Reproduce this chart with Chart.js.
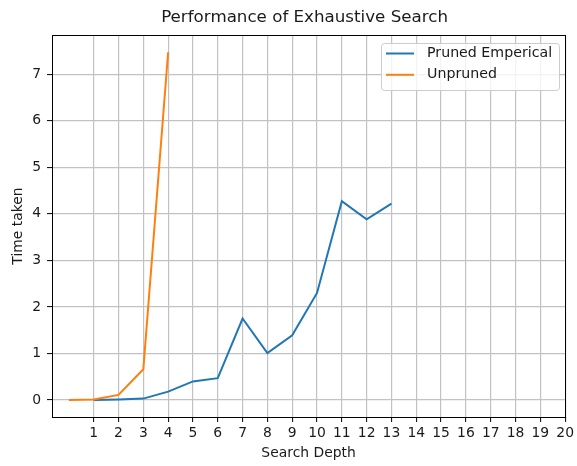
<!DOCTYPE html>
<html><head><meta charset="utf-8">
<script src="https://cdn.jsdelivr.net/npm/chart.js@4"></script>
<style>body{margin:0;background:#fff}canvas{display:block}</style>
</head><body>
<canvas id="c" width="577" height="466"></canvas>
<script>
const titleText = 'Performance of Exhaustive Search';
const xTitle = 'Search Depth';
const yTitle = 'Time taken';
const seriesNames = ['Pruned Emperical', 'Unpruned'];
const prunedDepth = [1, 2, 3, 4, 5, 6, 7, 8, 9, 10, 11, 12, 13];
const prunedTime = [0.0, 0.01, 0.03, 0.18, 0.40, 0.47, 1.75, 1.01, 1.39, 2.30, 4.27, 3.88, 4.22];
const unprunedDepth = [0, 1, 2, 3, 4];
const unprunedTime = [0.0, 0.01, 0.11, 0.66, 7.47];
const xTicks = [1,2,3,4,5,6,7,8,9,10,11,12,13,14,15,16,17,18,19,20];
const yTicks = [0,1,2,3,4,5,6,7];

const FONT = 'DejaVu Sans';
const TXT = '#1a1a1a';
const colors = ['#1f77b4', '#ff7f0e'];

const toPts = (xs, ys) => xs.map((x, i) => ({x, y: ys[i]}));

const frame = {
  id: 'frame',
  afterDraw(chart) {
    const {ctx, chartArea: a} = chart;
    ctx.save();
    ctx.strokeStyle = '#000';
    ctx.lineWidth = 1;
    ctx.strokeRect(Math.round(a.left) + 0.5, Math.round(a.top) + 0.5, Math.round(a.right - a.left), Math.round(a.bottom - a.top));
    ctx.fillStyle = TXT;
    ctx.font = `16.7px "${FONT}"`;
    ctx.textAlign = 'center';
    ctx.textBaseline = 'middle';
    ctx.fillText(titleText, (a.left + a.right) / 2 - 4, 18);
    const bx = 381, by = 43, bw = 178, bh = 47, r = 3;
    ctx.fillStyle = 'rgba(255,255,255,0.8)';
    ctx.strokeStyle = '#cccccc';
    ctx.lineWidth = 1;
    ctx.beginPath();
    ctx.roundRect(bx + 0.5, by + 0.5, bw, bh, r);
    ctx.fill();
    ctx.stroke();
    ctx.font = `14.2px "${FONT}"`;
    ctx.textAlign = 'left';
    chart.data.datasets.forEach((ds, i) => {
      const y = 53.5 + i * 21.3;
      ctx.strokeStyle = ds.borderColor;
      ctx.lineWidth = 2;
      ctx.beginPath();
      ctx.moveTo(386, y);
      ctx.lineTo(414, y);
      ctx.stroke();
      ctx.fillStyle = TXT;
      ctx.fillText(ds.label, 427, y);
    });
    ctx.restore();
  }
};

const gridOpts = {color: '#c2c2c2', lineWidth: 1.2, tickColor: '#000', tickWidth: 1, tickLength: 5, drawTicks: true};

new Chart(document.getElementById('c'), {
  type: 'line',
  data: {
    datasets: [
      {label: seriesNames[0], data: toPts(prunedDepth, prunedTime), borderColor: colors[0], backgroundColor: colors[0], borderWidth: 2, pointRadius: 0, tension: 0, order: 1},
      {label: seriesNames[1], data: toPts(unprunedDepth, unprunedTime), borderColor: colors[1], backgroundColor: colors[1], borderWidth: 2, pointRadius: 0, tension: 0, order: 0}
    ]
  },
  options: {
    responsive: false,
    animation: false,
    layout: {padding: {top: 35, right: 10, left: 0, bottom: 0}},
    plugins: {legend: {display: false}, title: {display: false}, tooltip: {enabled: false}},
    scales: {
      x: {
        type: 'linear', min: -0.68, max: 20,
        afterBuildTicks: s => { s.ticks = xTicks.map(v => ({value: v})); },
        afterFit: s => { s.height = 49; },
        grid: gridOpts,
        border: {color: '#000', width: 1},
        ticks: {color: TXT, font: {family: FONT, size: 13.9}, padding: 3, maxRotation: 0, autoSkip: false, callback: v => String(v)},
        title: {display: true, text: xTitle, color: TXT, font: {family: FONT, size: 13.9}, padding: {top: 0, bottom: 4.5}}
      },
      y: {
        type: 'linear', min: -0.365, max: 7.84,
        afterBuildTicks: s => { s.ticks = yTicks.map(v => ({value: v})); },
        afterFit: s => { s.width = 52; },
        grid: gridOpts,
        border: {color: '#000', width: 1},
        ticks: {color: TXT, font: {family: FONT, size: 13.9}, padding: 6, autoSkip: false, callback: v => String(v)},
        title: {display: true, text: yTitle, color: TXT, font: {family: FONT, size: 13.9}, padding: {top: 10, bottom: 0}}
      }
    }
  },
  plugins: [frame]
});
</script>
</body></html>
